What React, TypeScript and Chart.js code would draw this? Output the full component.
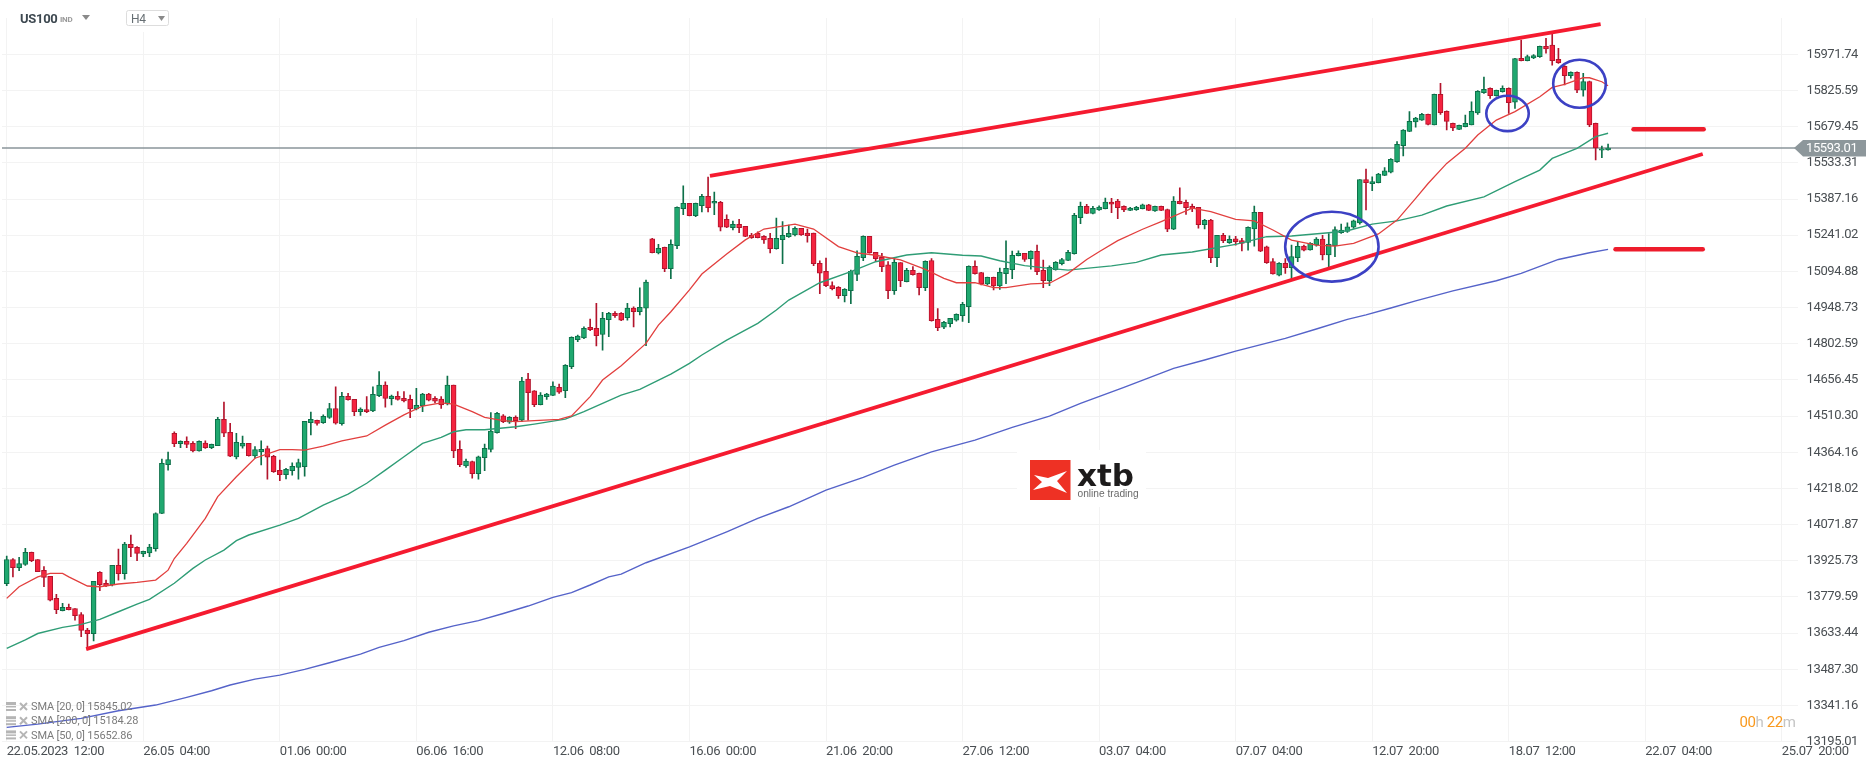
import React, { useEffect, useRef } from "react";
import { Chart, registerables } from "chart.js";

Chart.register(...registerables);

const FONT = "Roboto, sans-serif";
const X_MIN = -0.76;
const X_MAX = 288.6;
const Y_MIN = 13195.01;
const Y_MAX = 16118.4;
const LAST_PRICE = 15593.01;

const yTicks = [
  13195.01, 13341.16, 13487.3, 13633.44, 13779.59, 13925.73, 14071.87, 14218.02, 14364.16,
  14510.3, 14656.45, 14802.59, 14948.73, 15094.88, 15241.02, 15387.16, 15533.31, 15679.45,
  15825.59, 15971.74,
];
const xTickStep = 22;
const xTickLabels = [
  "22.05.2023  12:00", "26.05  04:00", "01.06  00:00", "06.06  16:00", "12.06  08:00",
  "16.06  00:00", "21.06  20:00", "27.06  12:00", "03.07  04:00", "07.07  04:00",
  "12.07  20:00", "18.07  12:00", "22.07  04:00", "25.07  20:00",
];

const opens = [
  13833, 13931, 13898, 13911, 13960, 13931, 13887, 13863, 13774, 13724,
  13738, 13733, 13709, 13646, 13631, 13879, 13835, 13828, 13907, 13874,
  13992, 13980, 13954, 13958, 13975, 14117, 14314, 14441, 14399, 14408,
  14400, 14370, 14401, 14383, 14391, 14497, 14445, 14345, 14389, 14400,
  14349, 14366, 14379, 14348, 14291, 14274, 14290, 14303, 14306, 14484,
  14493, 14484, 14505, 14541, 14480, 14590, 14578, 14528, 14537, 14531,
  14593, 14636, 14581, 14590, 14582, 14578, 14539, 14551, 14599, 14582,
  14579, 14559, 14636, 14376, 14309, 14327, 14278, 14342, 14376, 14443,
  14511, 14486, 14505, 14494, 14660, 14612, 14556, 14589, 14594, 14626,
  14613, 14710, 14819, 14826, 14869, 14865, 14840, 14900, 14925, 14925,
  14908, 14947, 14932, 14946, 15226, 15169, 15192, 15106, 15199, 15348,
  15370, 15320, 15360, 15398, 15370, 15374, 15305, 15271, 15285, 15277,
  15240, 15249, 15236, 15228, 15187, 15223, 15235, 15242, 15269, 15250,
  15250, 15127, 15095, 15038, 15030, 14997, 15017, 15083, 15150, 15236,
  15172, 15152, 15121, 15017, 15130, 15053, 15099, 15087, 15029, 15139,
  14901, 14870, 14884, 14898, 14916, 14952, 15115, 15090, 15044, 15071,
  15036, 15086, 15102, 15158, 15168, 15145, 15176, 15099, 15057, 15102,
  15126, 15139, 15166, 15312, 15358, 15329, 15343, 15348, 15375, 15379,
  15358, 15341, 15344, 15348, 15364, 15339, 15358, 15345, 15265, 15379,
  15374, 15358, 15354, 15284, 15302, 15150, 15240, 15211, 15226, 15219,
  15212, 15266, 15333, 15194, 15134, 15080, 15127, 15110, 15150, 15197,
  15182, 15201, 15225, 15161, 15198, 15251, 15256, 15273, 15291, 15466,
  15449, 15453, 15483, 15496, 15538, 15603, 15660, 15699, 15706, 15729,
  15687, 15810, 15741, 15693, 15668, 15679, 15687, 15735, 15817, 15834,
  15805, 15821, 15834, 15778, 15955, 15946, 15957, 15962, 16004, 16009,
  15951, 15923, 15885, 15899, 15827, 15862, 15693, 15584, 15586,
];
const highs = [
  13945, 13935, 13940, 13976, 13961, 13931, 13902, 13863, 13790, 13754,
  13751, 13733, 13717, 13653, 13843, 13882, 13848, 13907, 13973, 14000,
  14030, 13983, 13965, 13992, 14120, 14337, 14365, 14447, 14410, 14427,
  14407, 14410, 14410, 14397, 14505, 14567, 14481, 14441, 14430, 14400,
  14387, 14410, 14389, 14352, 14333, 14299, 14322, 14337, 14489, 14527,
  14494, 14515, 14562, 14629, 14606, 14602, 14578, 14544, 14589, 14629,
  14690, 14649, 14595, 14609, 14609, 14595, 14622, 14602, 14602, 14589,
  14589, 14672, 14636, 14410, 14337, 14329, 14349, 14397, 14524, 14525,
  14516, 14508, 14511, 14667, 14683, 14613, 14605, 14602, 14649, 14640,
  14718, 14830, 14838, 14871, 14902, 14966, 14929, 14929, 14932, 14928,
  14966, 14952, 15028, 15060, 15228, 15204, 15193, 15222, 15356, 15440,
  15370, 15371, 15406, 15476, 15415, 15378, 15323, 15298, 15305, 15277,
  15249, 15255, 15239, 15249, 15310, 15296, 15282, 15275, 15269, 15266,
  15250, 15137, 15149, 15053, 15033, 15025, 15100, 15178, 15238, 15236,
  15172, 15168, 15134, 15147, 15130, 15107, 15114, 15088, 15137, 15147,
  14945, 14893, 14905, 14923, 14970, 15117, 15137, 15091, 15072, 15072,
  15108, 15218, 15177, 15178, 15168, 15178, 15201, 15141, 15117, 15134,
  15148, 15180, 15329, 15375, 15366, 15358, 15360, 15391, 15390, 15386,
  15360, 15354, 15358, 15367, 15366, 15359, 15359, 15347, 15397, 15432,
  15383, 15367, 15354, 15305, 15305, 15240, 15249, 15238, 15236, 15228,
  15275, 15359, 15333, 15197, 15147, 15130, 15147, 15201, 15215, 15201,
  15211, 15231, 15240, 15248, 15275, 15286, 15291, 15302, 15466, 15508,
  15477, 15491, 15514, 15551, 15619, 15668, 15740, 15717, 15733, 15730,
  15811, 15854, 15743, 15694, 15686, 15726, 15780, 15825, 15880, 15836,
  15827, 15844, 15836, 15955, 16029, 15969, 15971, 16005, 16036, 16056,
  15996, 15926, 15901, 15901, 15895, 15864, 15694, 15601, 15609,
];
const lows = [
  13825, 13861, 13886, 13907, 13922, 13882, 13821, 13764, 13712, 13723,
  13727, 13686, 13619, 13568, 13602, 13805, 13821, 13824, 13848, 13852,
  13942, 13926, 13942, 13942, 13965, 14116, 14292, 14387, 14383, 14383,
  14366, 14369, 14380, 14379, 14391, 14427, 14346, 14337, 14381, 14348,
  14340, 14313, 14255, 14283, 14249, 14257, 14272, 14255, 14268, 14434,
  14474, 14481, 14501, 14478, 14474, 14575, 14512, 14513, 14524, 14528,
  14589, 14546, 14555, 14575, 14568, 14504, 14535, 14528, 14572, 14564,
  14541, 14555, 14342, 14306, 14303, 14260, 14256, 14290, 14366, 14441,
  14484, 14481, 14459, 14488, 14494, 14548, 14555, 14578, 14593, 14602,
  14585, 14702, 14811, 14823, 14855, 14794, 14777, 14831, 14909, 14896,
  14898, 14871, 14919, 14795, 15169, 15165, 15094, 15065, 15187, 15324,
  15319, 15316, 15335, 15335, 15324, 15258, 15271, 15262, 15251, 15235,
  15228, 15230, 15208, 15169, 15185, 15126, 15232, 15238, 15240, 15213,
  15118, 15005, 15033, 15020, 14986, 14972, 14964, 15057, 15138, 15168,
  15134, 15094, 14985, 15002, 15033, 15052, 15080, 15000, 15017, 14894,
  14855, 14863, 14871, 14894, 14893, 14888, 15084, 15040, 15040, 15020,
  15022, 15045, 15065, 15157, 15135, 15104, 15082, 15029, 15037, 15100,
  15121, 15138, 15164, 15288, 15328, 15327, 15341, 15347, 15332, 15308,
  15336, 15340, 15341, 15347, 15340, 15337, 15340, 15255, 15263, 15367,
  15325, 15336, 15269, 15266, 15130, 15114, 15211, 15208, 15201, 15178,
  15181, 15197, 15174, 15127, 15084, 15077, 15087, 15062, 15134, 15178,
  15181, 15197, 15141, 15111, 15154, 15248, 15252, 15268, 15286, 15343,
  15421, 15452, 15481, 15493, 15535, 15561, 15659, 15677, 15705, 15686,
  15686, 15729, 15666, 15663, 15667, 15678, 15686, 15729, 15814, 15794,
  15803, 15819, 15733, 15753, 15945, 15945, 15954, 15959, 15976, 15928,
  15935, 15848, 15875, 15817, 15803, 15679, 15545, 15554, 15585,
];
const closes = [
  13931, 13898, 13915, 13960, 13926, 13882, 13859, 13767, 13728, 13738,
  13728, 13704, 13645, 13631, 13843, 13829, 13824, 13907, 13874, 13993,
  13979, 13956, 13964, 13981, 14117, 14319, 14335, 14399, 14408, 14396,
  14370, 14408, 14383, 14396, 14497, 14441, 14348, 14404, 14400, 14350,
  14375, 14376, 14344, 14286, 14274, 14295, 14307, 14323, 14489, 14497,
  14481, 14509, 14541, 14482, 14590, 14577, 14528, 14539, 14528, 14598,
  14636, 14582, 14591, 14578, 14572, 14539, 14554, 14599, 14575, 14571,
  14555, 14636, 14370, 14314, 14329, 14278, 14346, 14380, 14450, 14521,
  14488, 14505, 14492, 14652, 14605, 14556, 14595, 14599, 14632, 14607,
  14715, 14828, 14834, 14865, 14859, 14835, 14905, 14925, 14916, 14898,
  14947, 14932, 14950, 15052, 15170, 15188, 15106, 15204, 15354, 15370,
  15320, 15370, 15398, 15352, 15378, 15273, 15273, 15285, 15271, 15236,
  15231, 15231, 15222, 15187, 15228, 15240, 15249, 15269, 15242, 15239,
  15126, 15088, 15037, 15025, 14997, 15022, 15095, 15156, 15236, 15169,
  15146, 15114, 15017, 15131, 15057, 15099, 15082, 15029, 15135, 14896,
  14867, 14889, 14905, 14921, 14962, 15115, 15086, 15044, 15071, 15036,
  15091, 15107, 15160, 15168, 15143, 15176, 15094, 15057, 15111, 15131,
  15143, 15172, 15321, 15358, 15329, 15350, 15355, 15375, 15366, 15352,
  15343, 15351, 15354, 15364, 15341, 15358, 15341, 15265, 15379, 15368,
  15352, 15348, 15284, 15301, 15150, 15240, 15219, 15224, 15215, 15208,
  15273, 15333, 15177, 15130, 15085, 15127, 15110, 15155, 15196, 15181,
  15208, 15225, 15161, 15205, 15264, 15262, 15275, 15299, 15466, 15453,
  15458, 15488, 15501, 15547, 15608, 15666, 15701, 15714, 15729, 15689,
  15810, 15736, 15701, 15674, 15685, 15693, 15741, 15822, 15830, 15805,
  15826, 15834, 15776, 15954, 15946, 15963, 15967, 16004, 15994, 15946,
  15938, 15885, 15899, 15827, 15862, 15687, 15594, 15590, 15593,
];

// moving averages: [bar index, price]
const sma20: [number, number][] = [
  [0, 13774], [2, 13821], [5, 13861], [7, 13875], [9, 13875], [10, 13861], [13, 13824], [15, 13821],
  [18, 13832], [21, 13839], [24, 13848], [26, 13888], [27, 13935], [29, 13996], [32, 14097], [34, 14185],
  [37, 14265], [40, 14340], [44, 14375], [46, 14375], [48, 14373], [51, 14389], [54, 14410], [58, 14430],
  [61, 14474], [64, 14515], [67, 14551], [70, 14564], [72, 14559], [75, 14528], [77, 14505], [80, 14492],
  [82, 14488], [85, 14492], [89, 14497], [91, 14511], [94, 14589], [96, 14656], [99, 14714], [103, 14804],
  [105, 14878], [107, 14932], [110, 15020], [112, 15084], [116, 15165], [119, 15222], [122, 15266], [127, 15286], [130, 15266],
  [134, 15195], [137, 15170], [140, 15160], [144, 15141], [148, 15103], [151, 15067], [153, 15049], [156, 15049],
  [159, 15029], [161, 15029], [165, 15044], [168, 15047], [171, 15087], [174, 15143], [176, 15174], [179, 15219],
  [183, 15265], [186, 15296], [191, 15350], [194, 15336], [198, 15305], [201, 15299], [204, 15262], [207, 15221],
  [211, 15201], [214, 15197], [217, 15208], [221, 15246], [224, 15302], [227, 15390], [229, 15450], [232, 15531],
  [235, 15592], [237, 15646], [240, 15706], [243, 15740], [247, 15800], [249, 15838], [251, 15850], [254, 15877],
  [255, 15877], [257, 15861], [258, 15845],
];
const sma50: [number, number][] = [
  [0, 13572], [3, 13606], [5, 13632], [9, 13657], [12, 13669], [15, 13689], [18, 13720], [21, 13751],
  [23, 13770], [27, 13835], [30, 13895], [32, 13929], [35, 13969], [37, 14007], [39, 14030], [44, 14070],
  [47, 14097], [51, 14151], [55, 14195], [58, 14239], [61, 14292], [64, 14346], [67, 14400], [70, 14424],
  [72, 14447], [74, 14455], [77, 14455], [82, 14467], [85, 14478], [90, 14498], [93, 14528], [95, 14551],
  [99, 14595], [102, 14618], [107, 14680], [110, 14723], [112, 14757], [116, 14817], [121, 14885], [124, 14939], [126, 14979],
  [131, 15049], [136, 15094], [140, 15134], [145, 15161], [149, 15170], [154, 15160], [157, 15157], [160, 15138],
  [164, 15118], [168, 15107], [171, 15100], [178, 15117], [182, 15131], [186, 15161], [191, 15173], [198, 15204],
  [203, 15235], [207, 15238], [213, 15251], [216, 15259], [220, 15286], [224, 15299], [228, 15322], [232, 15359],
  [238, 15396], [243, 15457], [247, 15504], [249, 15551], [253, 15592], [256, 15639], [258, 15653],
];
const sma200: [number, number][] = [
  [0, 13253], [5, 13266], [12, 13289], [18, 13320], [24, 13343], [29, 13374], [33, 13401], [36, 13424],
  [40, 13448], [44, 13464], [48, 13487], [52, 13514], [57, 13549], [60, 13576], [64, 13603], [68, 13637],
  [72, 13663], [76, 13684], [80, 13713], [84, 13743], [88, 13778], [91, 13797], [94, 13828], [97, 13861],
  [99, 13872], [103, 13918], [110, 13982], [116, 14043], [121, 14097], [126, 14144], [132, 14211], [138, 14263],
  [143, 14312], [149, 14366], [156, 14413], [162, 14465], [168, 14510], [173, 14562], [180, 14626], [188, 14703],
  [193, 14737], [198, 14773], [206, 14824], [211, 14862], [216, 14901], [219, 14919], [223, 14947], [227, 14976],
  [233, 15016], [240, 15057], [244, 15087], [250, 15143], [255, 15170], [258, 15184],
];

// drawn trend lines and levels: [bar index, price]
const lowerTrend: [number, number][] = [[12.8, 13569], [273.25, 15569]];
const upperTrend: [number, number][] = [[113.3, 15481], [256.8, 16094]];
const upperLevel: [number, number][] = [[262.1, 15669], [273.4, 15669]];
const lowerLevel: [number, number][] = [[259.2, 15184], [273.25, 15184]];

// drawn circles: centre bar, centre price, radius in bars, radius in price
const circles = [
  [213.5, 15194.5, 7.52, 141],
  [241.8, 15733, 3.42, 71.5],
  [253.4, 15853, 4.24, 97],
];

const legendRows = ["SMA [20, 0] 15845.02", "SMA [200, 0] 15184.28", "SMA [50, 0] 15652.86"];

const GREEN = "#1fa86f";
const GREEN_DARK = "#0d7049";
const RED = "#f4233f";
const RED_DARK = "#b3142c";

const toXY = (pts: [number, number][]) => pts.map(([x, y]) => ({ x, y }));

const lineSet = (pts: [number, number][], color: string, width: number, order: number, cap = "butt") => ({
  type: "line" as const,
  data: toXY(pts),
  borderColor: color,
  borderWidth: width,
  borderCapStyle: cap,
  pointRadius: 0,
  tension: 0,
  fill: false,
  order,
});

const circlesPlugin = {
  id: "circles",
  afterDatasetsDraw(chart: any) {
    const { ctx, scales } = chart;
    ctx.save();
    ctx.strokeStyle = "#3c41c4";
    ctx.lineWidth = 2.6;
    circles.forEach(([cx, cy, rx, ry]) => {
      const x = scales.x.getPixelForValue(cx);
      const y = scales.y.getPixelForValue(cy);
      const w = scales.x.getPixelForValue(cx + rx) - x;
      const h = y - scales.y.getPixelForValue(cy + ry);
      ctx.beginPath();
      ctx.ellipse(x, y, w, h, 0, 0, Math.PI * 2);
      ctx.stroke();
    });
    ctx.restore();
  },
};

const drawTriangle = (ctx: CanvasRenderingContext2D, x: number, y: number, w: number, h: number) => {
  ctx.beginPath();
  ctx.moveTo(x, y);
  ctx.lineTo(x + w, y);
  ctx.lineTo(x + w / 2, y + h);
  ctx.closePath();
  ctx.fill();
};

const drawHeader = (ctx: CanvasRenderingContext2D) => {
  ctx.textBaseline = "middle";
  ctx.textAlign = "left";
  ctx.letterSpacing = "-0.3px";
  ctx.fillStyle = "#3d4850";
  ctx.font = `bold 13px ${FONT}`;
  ctx.fillText("US100", 20, 19.5);
  ctx.fillStyle = "#9a9a9a";
  ctx.font = `bold 8px ${FONT}`;
  ctx.fillText("IND", 60, 19.5);
  ctx.fillStyle = "#8a8a8a";
  drawTriangle(ctx, 82, 15, 8, 5);

  ctx.fillStyle = "#ffffff";
  ctx.fillRect(125, 8, 46, 24);
  ctx.strokeStyle = "#dddddd";
  ctx.lineWidth = 1;
  ctx.beginPath();
  ctx.roundRect(126.5, 10.5, 42, 15, 2);
  ctx.stroke();
  ctx.fillStyle = "#666e73";
  ctx.font = `12px ${FONT}`;
  ctx.fillText("H4", 131, 20);
  ctx.fillStyle = "#8a8a8a";
  drawTriangle(ctx, 158, 16, 7, 5);
};

const drawLegend = (ctx: CanvasRenderingContext2D) => {
  ctx.textBaseline = "middle";
  ctx.textAlign = "left";
  ctx.letterSpacing = "-0.15px";
  legendRows.forEach((row, i) => {
    const y = 707 + i * 14.2;
    ctx.fillStyle = "#b5b5b5";
    ctx.fillRect(6, y - 5, 10, 3);
    ctx.fillRect(6, y - 1, 10, 1.5);
    ctx.fillRect(6, y + 2, 10, 2);
    ctx.strokeStyle = "#b5b5b5";
    ctx.lineWidth = 2;
    ctx.beginPath();
    ctx.moveTo(20, y - 4);
    ctx.lineTo(27, y + 3);
    ctx.moveTo(27, y - 4);
    ctx.lineTo(20, y + 3);
    ctx.stroke();
    ctx.fillStyle = "#7b7b7b";
    ctx.font = `11px ${FONT}`;
    ctx.fillText(row, 31, y + 0.5);
  });
};

const drawCountdown = (ctx: CanvasRenderingContext2D) => {
  ctx.textBaseline = "middle";
  ctx.textAlign = "left";
  ctx.letterSpacing = "-0.4px";
  ctx.font = `15px ${FONT}`;
  let x = 1739.5;
  [["00", "#f9991e"], ["h ", "#c4c4c4"], ["22", "#f9991e"], ["m", "#c4c4c4"]].forEach(([txt, color]) => {
    ctx.fillStyle = color;
    ctx.fillText(txt, x, 723);
    x += ctx.measureText(txt).width;
  });
};

const drawLogo = (ctx: CanvasRenderingContext2D) => {
  ctx.fillStyle = "#ffffff";
  ctx.fillRect(1017, 450, 129, 57);
  ctx.fillStyle = "#ee3124";
  ctx.fillRect(1030, 460, 40.5, 40);
  ctx.fillStyle = "#ffffff";
  const mark = [[4, 15], [18, 18], [37, 11], [27, 21], [37, 33], [20, 26], [3, 30], [12, 22]];
  ctx.beginPath();
  mark.forEach(([mx, my], i) => (i ? ctx.lineTo(1030 + mx, 460 + my) : ctx.moveTo(1030 + mx, 460 + my)));
  ctx.closePath();
  ctx.fill();
  ctx.textBaseline = "alphabetic";
  ctx.textAlign = "left";
  ctx.letterSpacing = "0px";
  ctx.fillStyle = "#1d1b1b";
  ctx.font = "bold 31px 'DejaVu Sans'";
  ctx.fillText("xtb", 1077, 486);
  ctx.fillStyle = "#6a6a6a";
  ctx.font = "10.2px 'Liberation Sans'";
  ctx.fillText("online trading", 1077.5, 497);
};

const drawPriceTag = (chart: any) => {
  const { ctx, scales } = chart;
  const y = scales.y.getPixelForValue(LAST_PRICE);
  ctx.fillStyle = "#8d979b";
  ctx.beginPath();
  ctx.moveTo(1794, y);
  ctx.lineTo(1803, y - 8);
  ctx.lineTo(1866, y - 8);
  ctx.lineTo(1866, y + 8.5);
  ctx.lineTo(1803, y + 8.5);
  ctx.closePath();
  ctx.fill();
  ctx.fillStyle = "#ffffff";
  ctx.textBaseline = "middle";
  ctx.textAlign = "left";
  ctx.letterSpacing = "-0.4px";
  ctx.font = `13px ${FONT}`;
  ctx.fillText(LAST_PRICE.toFixed(2), 1806, y + 1);
};

const overlayPlugin = {
  id: "overlay",
  beforeDraw(chart: any) {
    // the tick text in the reference is narrow, tighten it a bit
    chart.ctx.letterSpacing = "-0.4px";
  },
  afterDraw(chart: any) {
    const { ctx } = chart;
    ctx.save();
    drawLogo(ctx);
    drawHeader(ctx);
    drawLegend(ctx);
    drawCountdown(ctx);
    drawPriceTag(chart);
    ctx.restore();
  },
};

const App: React.FC = () => {
  const canvasRef = useRef<HTMLCanvasElement | null>(null);

  useEffect(() => {
    if (!canvasRef.current) return;
    const up = opens.map((o, i) => closes[i] >= o);

    const chart = new Chart(canvasRef.current, {
      type: "bar",
      data: {
        datasets: [
          lineSet([[X_MIN, LAST_PRICE], [X_MAX, LAST_PRICE]], "#8a959a", 1.5, 20),
          {
            data: opens.map((_, i) => ({ x: i, y: [lows[i], highs[i]] })),
            backgroundColor: up.map((u) => (u ? GREEN_DARK : RED_DARK)),
            borderWidth: 0,
            barThickness: 1,
            grouped: false,
            order: 12,
          },
          {
            data: opens.map((o, i) => ({ x: i, y: [o, closes[i]] })),
            backgroundColor: up.map((u) => (u ? GREEN : RED)),
            borderColor: up.map((u) => (u ? GREEN_DARK : RED_DARK)),
            borderWidth: 1,
            borderSkipped: false,
            barThickness: 5,
            grouped: false,
            order: 10,
          },
          lineSet(sma200, "#5563c9", 1.4, 5),
          lineSet(sma50, "#2f9d76", 1.4, 4),
          lineSet(sma20, "#e2403f", 1.3, 3),
          lineSet(lowerTrend, "#f51b30", 3.8, 2),
          lineSet(upperTrend, "#f51b30", 3.8, 2),
          lineSet(upperLevel, "#ee1c2c", 4.5, 1, "round"),
          lineSet(lowerLevel, "#ee1c2c", 4.5, 1, "round"),
        ] as any,
      },
      options: {
        animation: false,
        responsive: false,
        layout: { padding: { top: 18, left: 2, right: 0, bottom: 0 } },
        plugins: { legend: { display: false }, tooltip: { enabled: false } },
        scales: {
          x: {
            type: "linear",
            min: X_MIN,
            max: X_MAX,
            offset: false,
            grid: { color: "#f3f3f3", offset: false, drawTicks: false },
            border: { display: false },
            afterFit: (scale: any) => {
              scale.height = 25.3;
            },
            afterBuildTicks: (scale: any) => {
              scale.ticks = xTickLabels.map((_, i) => ({ value: i * xTickStep }));
            },
            ticks: {
              callback: (v: any) => xTickLabels[Number(v) / xTickStep],
              align: "start",
              autoSkip: false,
              maxRotation: 0,
              padding: 2,
              color: "#4a4f53",
              font: { family: FONT, size: 13 },
            },
          },
          y: {
            position: "right",
            min: Y_MIN,
            max: Y_MAX,
            grid: { color: "#f3f3f3", drawTicks: false },
            border: { display: false },
            afterFit: (scale: any) => {
              scale.width = 68;
            },
            afterBuildTicks: (scale: any) => {
              scale.ticks = yTicks.map((value) => ({ value }));
            },
            ticks: {
              callback: (v: any) => Number(v).toFixed(2),
              padding: 8.6,
              color: "#4a4f53",
              font: { family: FONT, size: 13 },
            },
          },
        },
      } as any,
      plugins: [circlesPlugin, overlayPlugin],
    });

    return () => chart.destroy();
  }, []);

  return (
    <div style={{ position: "fixed", left: 0, top: 0, width: 1866, height: 767, background: "#fff" }}>
      <canvas ref={canvasRef} width={1866} height={767} style={{ display: "block" }} />
    </div>
  );
};

export default App;
